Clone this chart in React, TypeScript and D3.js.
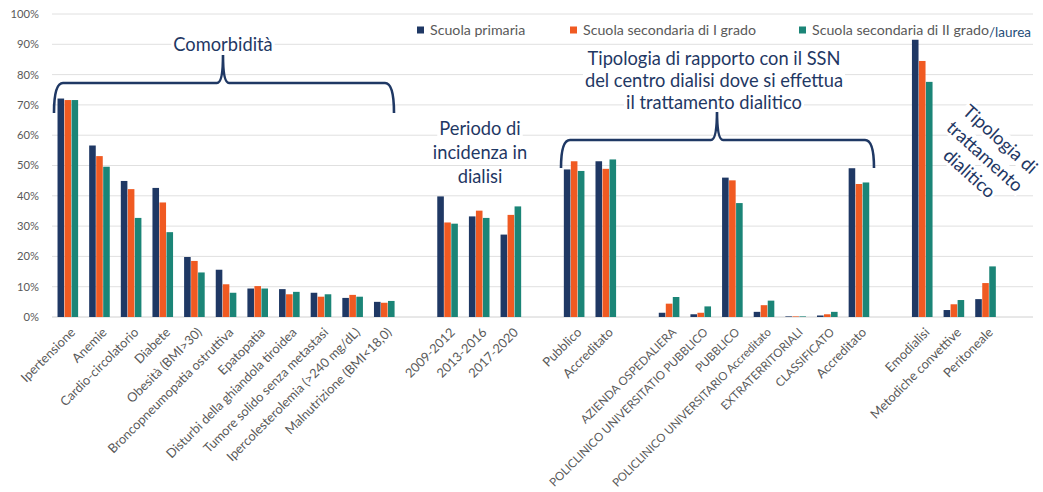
import React, { useEffect, useRef } from "react";
import * as d3 from "d3";

const categories: string[] = [
  "Ipertensione", "Anemie", "Cardio-circolatorio", "Diabete", "Obesità (BMI>30)",
  "Broncopneumopatia ostruttiva", "Epatopatia", "Disturbi della ghiandola tiroidea",
  "Tumore solido senza metastasi", "Ipercolesterolemia (>240 mg/dL)", "Malnutrizione (BMI<18,0)",
  "",
  "2009-2012", "2013-2016", "2017-2020",
  "",
  "Pubblico", "Accreditato",
  "",
  "AZIENDA OSPEDALIERA", "POLICLINICO UNIVERSITATIO PUBBLICO", "PUBBLICO",
  "POLICLINICO UNIVERSITARIO Accreditato", "EXTRATERRITORIALI", "CLASSIFICATO", "Accreditato",
  "",
  "Emodialisi", "Metodiche convettive", "Peritoneale",
  "",
];

const primaria: (number | null)[] = [
  72.1, 56.6, 44.9, 42.6, 19.8, 15.6, 9.4, 9.2, 8.0, 6.3, 5.0, null,
  39.8, 33.2, 27.2, null,
  48.7, 51.4, null,
  1.4, 0.9, 46.0, 1.7, 0.2, 0.5, 49.1, null,
  91.5, 2.3, 5.9, null,
];
const secondaria1: (number | null)[] = [
  71.6, 53.1, 42.2, 37.8, 18.5, 10.8, 10.2, 7.5, 6.7, 7.3, 4.7, null,
  31.2, 35.1, 33.7, null,
  51.4, 48.9, null,
  4.4, 1.4, 45.1, 3.9, 0.2, 0.9, 43.9, null,
  84.5, 4.2, 11.2, null,
];
const secondaria2: (number | null)[] = [
  71.6, 49.6, 32.7, 28.0, 14.7, 8.0, 9.4, 8.3, 7.5, 6.7, 5.3, null,
  30.8, 32.7, 36.5, null,
  48.2, 52.0, null,
  6.6, 3.5, 37.6, 5.4, 0.2, 1.7, 44.4, null,
  77.6, 5.6, 16.7, null,
];

const seriesNames = ["Scuola primaria", "Scuola secondaria di I grado", "Scuola secondaria di II grado"];
const seriesColors = ["#1f3864", "#f05a22", "#1b8577"];
const legendSuffix = "/laurea";
const yTicks = [0, 10, 20, 30, 40, 50, 60, 70, 80, 90, 100];

const noteComorb = ["Comorbidità"];
const notePeriodo = ["Periodo di", "incidenza in", "dialisi"];
const noteSSN = ["Tipologia di rapporto con il SSN", "del centro dialisi dove si effettua", "il trattamento dialitico"];
const noteTratt = ["Tipologia di", "trattamento", "dialitico"];

const FONT = "Lato, 'Open Sans', sans-serif";
const NAVY = "#1f3864";

export default function App() {
  const ref = useRef<SVGSVGElement>(null);

  useEffect(() => {
    document.body.style.margin = "0";
    const svg = d3.select(ref.current as SVGSVGElement);
    svg.selectAll("*").remove();

    const left = 52, right = 1033, top = 14, bottom = 317;
    const y = d3.scaleLinear().domain([0, 100]).range([bottom, top]);
    const x = d3.scaleBand<number>().domain(d3.range(categories.length)).range([left, right]).padding(0);
    const groupW = 20.6;
    const x1 = d3.scaleBand<number>().domain([0, 1, 2]).range([0, groupW]).paddingInner(0.06);
    const offset = (x.bandwidth() - groupW) / 2;

    // gridlines
    svg.append("g").selectAll("line").data(yTicks).join("line")
      .attr("x1", left).attr("x2", right)
      .attr("y1", (d) => y(d)).attr("y2", (d) => y(d))
      .attr("stroke", (d) => (d === 0 ? "#d0d0d0" : "#e0e0e0"))
      .attr("stroke-width", 1);

    // y labels
    svg.append("g").selectAll("text").data(yTicks).join("text")
      .attr("x", 39).attr("y", (d) => y(d)).attr("dy", "0.35em")
      .attr("text-anchor", "end")
      .attr("font-family", FONT).attr("font-size", 11.2).attr("fill", "#595959")
      .text((d) => `${d}%`);

    // bars
    const series = [primaria, secondaria1, secondaria2];
    series.forEach((vals, si) => {
      svg.append("g").selectAll("rect")
        .data(vals.map((v, i) => ({ v, i })).filter((d) => d.v !== null))
        .join("rect")
        .attr("x", (d) => (x(d.i) as number) + offset + (x1(si) as number))
        .attr("width", x1.bandwidth())
        .attr("y", (d) => y(d.v as number))
        .attr("height", (d) => bottom - y(d.v as number))
        .attr("fill", seriesColors[si]);
    });

    // x labels
    const labelY = bottom + 13;
    const isCaps = (s: string) => {
      const letters = s.replace(/[^A-Za-z]/g, "");
      const up = letters.replace(/[^A-Z]/g, "").length;
      return letters.length > 0 && up / letters.length > 0.5;
    };
    const xl = svg.append("g").selectAll("text")
      .data(categories.map((c, i) => ({ c, i })).filter((d) => d.c !== ""))
      .join("text")
      .attr("transform", (d) => `translate(${(x(d.i) as number) + x.bandwidth() / 2 + 5},${labelY}) rotate(-45)`)
      .attr("text-anchor", "end")
      .attr("dy", "0.35em")
      .attr("font-family", FONT)
      .attr("font-size", (d) => (isCaps(d.c) ? 11.6 : 12.8))
      .attr("fill", "#595959")
      .text((d) => d.c);
    // shrink any label that would run past the bottom edge
    xl.each(function () {
      const el = this as SVGTextElement;
      const len = el.getComputedTextLength();
      const maxLen = (489 - labelY) / Math.SQRT1_2 - 6;
      if (len > maxLen) {
        const fs = parseFloat(el.getAttribute("font-size") || "12");
        el.setAttribute("font-size", String((fs * maxLen) / len));
      }
    });

    // legend
    const legX = [417, 570, 799];
    const leg = svg.append("g");
    seriesNames.forEach((n, i) => {
      leg.append("rect").attr("x", legX[i]).attr("y", 26.5).attr("width", 7).attr("height", 7).attr("fill", seriesColors[i]);
      leg.append("text").attr("x", legX[i] + 13).attr("y", 35)
        .attr("font-family", FONT).attr("font-size", 14.2).attr("fill", "#595959").text(n);
    });
    leg.append("text").attr("x", 989).attr("y", 37)
      .attr("font-family", FONT).attr("font-size", 13.5).attr("fill", "#1f4e79").text(legendSuffix);

    // braces
    const brace = (x1b: number, x2b: number, xm: number, yTop: number, yEnd: number, yPeak: number) => {
      const r = 9, r2 = 6;
      return `M${x1b},${yEnd} Q${x1b},${yTop} ${x1b + r},${yTop} L${xm - r2},${yTop} Q${xm},${yTop} ${xm},${yPeak} Q${xm},${yTop} ${xm + r2},${yTop} L${x2b - r},${yTop} Q${x2b},${yTop} ${x2b},${yEnd}`;
    };
    svg.append("path").attr("d", brace(54, 394, 223, 83, 113, 55))
      .attr("fill", "none").attr("stroke", NAVY).attr("stroke-width", 2.6);
    svg.append("path").attr("d", brace(561, 874, 717, 140, 168, 110))
      .attr("fill", "none").attr("stroke", NAVY).attr("stroke-width", 2.6);

    // annotation text with white background per line
    const note = (lines: string[], cx: number, baseY: number, lh: number, rotate = 0) => {
      const g = svg.append("g").attr("transform", `translate(${cx},${baseY}) rotate(${rotate})`);
      const bg = g.append("g");
      lines.forEach((t, i) => {
        const tx = g.append("text").attr("x", 0).attr("y", i * lh)
          .attr("text-anchor", "middle")
          .attr("font-family", FONT).attr("font-size", 18.3).attr("fill", NAVY).text(t);
        const bb = (tx.node() as SVGTextElement).getBBox();
        bg.append("rect").attr("x", bb.x - 2).attr("y", bb.y + 2).attr("width", bb.width + 4).attr("height", bb.height - 3).attr("fill", "#fff");
      });
    };
    note(noteComorb, 223, 51, 22);
    note(notePeriodo, 480, 135, 24);
    note(noteSSN, 714, 65, 22);
    note(noteTratt, 996, 144, 23, 42);
  }, []);

  return <svg ref={ref} width={1043} height={492} style={{ display: "block", background: "#fff" }} />;
}
